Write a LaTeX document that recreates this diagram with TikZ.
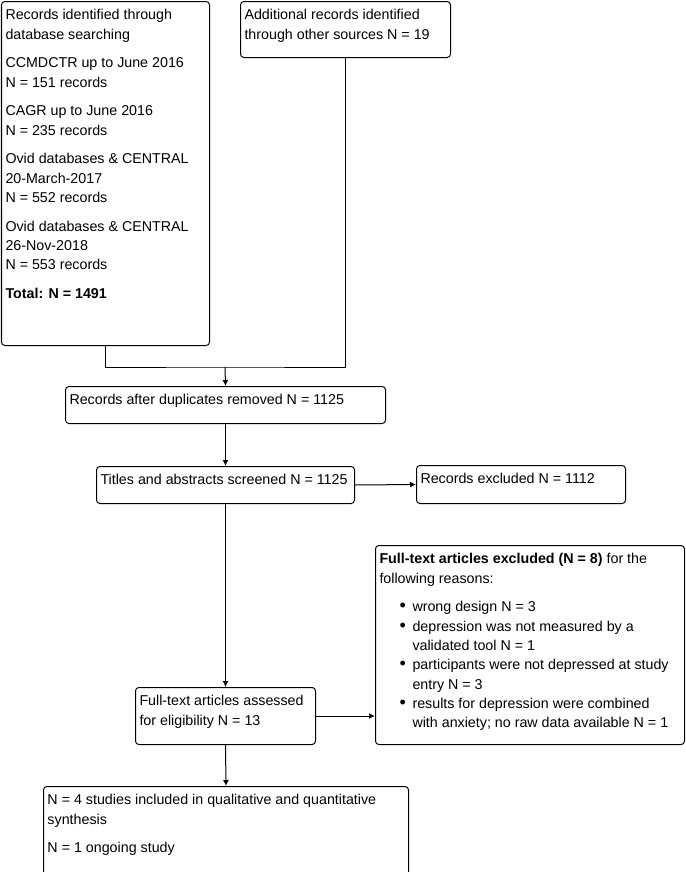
\documentclass[tikz,border=0pt]{standalone}
\usepackage{fontspec}
\setmainfont{Liberation Sans}
\usetikzlibrary{arrows.meta,positioning}
\newlength{\boxxsep}\setlength{\boxxsep}{3pt}
\newlength{\boxysep}\setlength{\boxysep}{6pt}
% text set at the top of a box of w x h pixels
\newcommand{\boxtext}[3]{\parbox[c][\dimexpr0.75pt*#2-2\boxysep\relax][t]{\dimexpr0.75pt*#1-2\boxxsep\relax}{#3}}
\newcommand{\reason}[1]{\hspace*{15pt}\makebox[9.75pt][l]{\fontsize{13.5}{0}\selectfont\textbullet}#1}
\newcommand{\reasoncont}[1]{\hspace*{24.75pt}#1}

\begin{document}
\begin{tikzpicture}[x=0.75pt, y=-0.75pt, line width=0.75pt,
    every node/.style={font=\fontsize{10.7}{14.5}\selectfont},
    flowbox/.style={draw, rounded corners=2.5pt, anchor=north west, inner xsep=\boxxsep, inner ysep=\boxysep},
    arr/.style={-{Latex[length=4.5pt,width=4.5pt]}}]
        \useasboundingbox (0,0) rectangle (686,872);
        \clip (0,0) rectangle (686,872);
        \node[flowbox] (src) at (1,1) {\boxtext{208}{344}{Records identified through\\database searching\\[7pt]
            CCMDCTR up to June 2016\\N = 151 records\\[7pt]
            CAGR up to June 2016\\N = 235 records\\[7pt]
            Ovid databases \& CENTRAL\\20-March-2017\\N = 552 records\\[7pt]
            Ovid databases \& CENTRAL\\26-Nov-2018\\N = 553 records\\[7pt]
            \textbf{Total: N = 1491}}};
        \node[flowbox] (other) at (240,1) {\boxtext{210}{56}{Additional records identified\\through other sources N = 19}};
        \node[flowbox] (dedup) at (65,386) {\boxtext{320}{37}{Records after duplicates removed N = 1125}};
        \node[flowbox] (screen) at (96,466) {\boxtext{258}{37}{Titles and abstracts screened N = 1125}};
        \node[flowbox] (excl) at (416,465) {\boxtext{209}{38}{Records excluded N = 1112}};
        \node[flowbox] (reasons) at (375,545) {\boxtext{309}{199}{\textbf{Full-text articles excluded (N = 8)} for the\\following reasons:\\[7pt]
            \reason{wrong design N = 3}\\
            \reason{depression was not measured by a}\\\reasoncont{validated tool N = 1}\\
            \reason{participants were not depressed at study}\\\reasoncont{entry N = 3}\\
            \reason{results for depression were combined}\\\reasoncont{with anxiety; no raw data available N = 1}}};
        \node[flowbox] (full) at (135,687) {\boxtext{180}{57}{Full-text articles assessed\\for eligibility N = 13}};
        \node[flowbox] (incl) at (43,786) {\boxtext{365}{100}{N = 4 studies included in qualitative and quantitative\\synthesis\\[7pt]
            N = 1 ongoing study}};
        \coordinate (join) at (225,367);
        \draw (src.south) |- (join) -| (other.south);
        \draw[arr] (join) -- (dedup.north);
        \draw[arr] (dedup.south) -- (screen.north);
        \draw[arr] (screen.east) -- (excl.west);
        \draw[arr] (screen.south) -- (full.north);
        \draw[arr] (full.east) -- (reasons.west |- full.east);
        \draw[arr] (full.south) -- (incl.north);
      \end{tikzpicture}
\end{document}
